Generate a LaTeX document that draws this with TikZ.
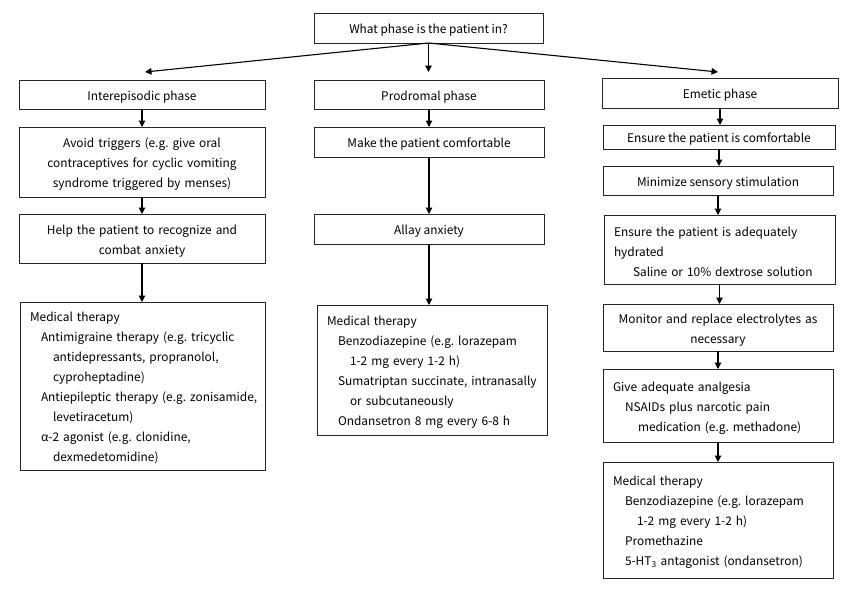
\documentclass[tikz,border=0pt]{standalone}
\usepackage{fontspec}
\setmainfont{Noto Sans CJK KR}
\usetikzlibrary{arrows.meta}
\newcommand\indl[2]{\hspace*{#1}\mbox{#2}}
\begin{document}
\frenchspacing
\begin{tikzpicture}[x=1pt,y=-1pt,
  box/.style={draw=black!85, line width=0.8pt, inner sep=0pt, outer sep=0pt, font=\fontsize{11.9}{20}\selectfont\frenchspacing, align=center, execute at begin node={\rule{0pt}{14pt}}},
  lbox/.style={box, align=left, inner xsep=10pt},
  arr/.style={-{Triangle[length=6.5pt,width=6.5pt]}, line width=1.1pt}]
\useasboundingbox[fill=white] (0,0) rectangle (856,589);
% top
\node[box, minimum width=229pt, minimum height=30pt] (top) at (428.5,28) {What phase is the patient in?};
\coordinate (la) at (145,72);
\coordinate (ma) at (428.5,72);
\coordinate (ra) at (718,72);
% left column
\node[box, minimum width=246pt, minimum height=29pt] (inter) at (142,94.5) {Interepisodic phase};
\node[box, text width=246pt, minimum height=70pt] (avoid) at (142,162) {Avoid triggers (e.g. give oral\\contraceptives for cyclic vomiting\\syndrome triggered by menses)};
\node[box, text width=246pt, minimum height=49pt] (help) at (142,238.5) {Help the patient to recognize and\\combat anxiety};
\node[lbox, text width=225pt, minimum height=168pt] (medl) at (142.5,386) {\indl{0pt}{Medical therapy}\\
\indl{11pt}{Antimigraine therapy (e.g. tricyclic}\\
\indl{23pt}{antidepressants, propranolol,}\\
\indl{23pt}{cyproheptadine)}\\
\indl{11pt}{Antiepileptic therapy (e.g. zonisamide,}\\
\indl{23pt}{levetiracetum)}\\
\indl{11pt}{α-2 agonist (e.g. clonidine,}\\
\indl{23pt}{dexmedetomidine)}};
% middle column
\node[box, minimum width=230pt, minimum height=29pt] (prod) at (429,94.5) {Prodromal phase};
\node[box, minimum width=230pt, minimum height=30pt] (make) at (429,142) {Make the patient comfortable};
\node[box, minimum width=230pt, minimum height=30pt] (allay) at (429,229) {Allay anxiety};
\node[lbox, text width=210pt, minimum height=130pt] (medm) at (432,370) {\indl{0pt}{Medical therapy}\\
\indl{11pt}{Benzodiazepine (e.g. lorazepam}\\
\indl{23pt}{1-2 mg every 1-2 h)}\\
\indl{11pt}{Sumatriptan succinate, intranasally}\\
\indl{23pt}{or subcutaneously}\\
\indl{11pt}{Ondansetron 8 mg every 6-8 h}};
% right column
\node[box, minimum width=236pt, minimum height=30pt] (emet) at (720,93) {Emetic phase};
\node[box, minimum width=232pt, minimum height=24pt] (ensc) at (719,137) {Ensure the patient is comfortable};
\node[box, minimum width=230pt, minimum height=29pt] (mini) at (718,180.5) {Minimize sensory stimulation};
\node[lbox, text width=211pt, minimum height=69pt] (hydr) at (719.5,249.5) {\indl{0pt}{Ensure the patient is adequately}\\
\indl{0pt}{hydrated}\\
\indl{19pt}{Saline or 10\% dextrose solution}};
\node[box, text width=230pt, minimum height=47pt] (moni) at (718,327.5) {Monitor and replace electrolytes as\\necessary};
\node[lbox, text width=210pt, minimum height=73pt] (give) at (718,405.5) {\indl{0pt}{Give adequate analgesia}\\
\indl{12pt}{NSAIDs plus narcotic pain}\\
\indl{25pt}{medication (e.g. methadone)}};
\node[lbox, text width=210pt, minimum height=116pt] (medr) at (718,520) {\indl{0pt}{Medical therapy}\\
\indl{12pt}{Benzodiazepine (e.g. lorazepam}\\
\indl{24pt}{1-2 mg every 1-2 h)}\\
\indl{12pt}{Promethazine}\\
\indl{12pt}{5-HT\textsubscript{3} antagonist (ondansetron)}};
% connectors
\draw[arr] (top.south) -- (la);
\draw[arr] (top.south) -- (ma);
\draw[arr] (top.south) -- (ra);
\draw[arr] (inter.south) -- (inter.south |- avoid.north);
\draw[arr] (avoid.south) -- (avoid.south |- help.north);
\draw[arr] (help.south) -- (help.south |- medl.north);
\draw[arr] (prod.south) -- (prod.south |- make.north);
\draw[arr] (make.south) -- (make.south |- allay.north);
\draw[arr] (allay.south) -- (allay.south |- medm.north);
\draw[arr] (emet.south) -- (emet.south |- ensc.north);
\draw[arr] (ensc.south) -- (ensc.south |- mini.north);
\draw[arr] (mini.south) -- (mini.south |- hydr.north);
\draw[arr] (hydr.south) -- (hydr.south |- moni.north);
\draw[arr] (moni.south) -- (moni.south |- give.north);
\draw[arr] (give.south) -- (give.south |- medr.north);
\end{tikzpicture}
\end{document}
